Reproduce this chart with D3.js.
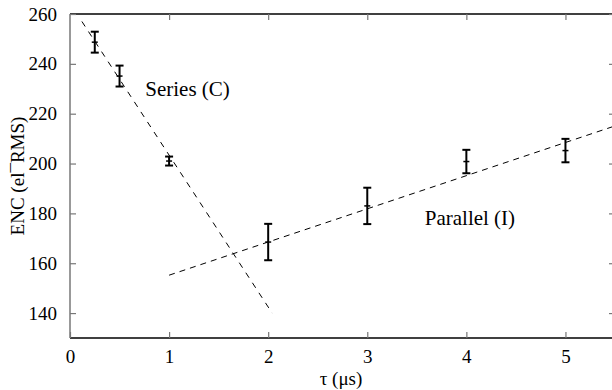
<!DOCTYPE html>
<html><head><meta charset="utf-8">
<script src="https://cdn.jsdelivr.net/npm/d3@7"></script>
<style>body{margin:0;background:#fff}svg{display:block}</style>
</head><body>
<svg id="c" width="612" height="390"></svg>
<script>
const seriesTau = [0.25, 0.5, 1.0];
const seriesENC = [248.7, 235.1, 201.0];
const seriesErr = [4.2, 4.2, 1.8];
const parallelTau = [2, 3, 4, 5];
const parallelENC = [168.5, 183.0, 200.8, 205.2];
const parallelErr = [7.3, 7.3, 4.7, 4.7];
const seriesFitX = [0.12, 2.04];
const seriesFitY = [257.0, 140.0];
const parallelFitX = [1.0, 5.5];
const parallelFitY = [155.2, 215.1];
const xTicks = [0, 1, 2, 3, 4, 5];
const yTicks = [140, 160, 180, 200, 220, 240, 260];
const labels = [{t: "Series (C)", x: 0.76, y: 227.1}, {t: "Parallel (I)", x: 3.58, y: 175.4}];

const FONT = "'Liberation Serif', 'Times New Roman', 'DejaVu Serif', serif";
const svg = d3.select("#c");
const L = 70, R = 615, T = 14, B = 338;
const x = d3.scaleLinear().domain([0, 5.5]).range([L, R]);
const y = d3.scaleLinear().domain([130, 260]).range([B, T]);

const g = svg.append("g");
svg.append("defs").append("clipPath").attr("id","clip").append("rect").attr("x",L).attr("y",T).attr("width",R-L).attr("height",B-T);

const line = d3.line().x(d=>x(d[0])).y(d=>y(d[1]));
g.append("path").attr("clip-path","url(#clip)").datum(seriesFitX.map((v,i)=>[v,seriesFitY[i]]))
 .attr("d",line).attr("fill","none").attr("stroke","#000").attr("stroke-width",1).attr("stroke-dasharray","6,6");
g.append("path").attr("clip-path","url(#clip)").datum(parallelFitX.map((v,i)=>[v,parallelFitY[i]]))
 .attr("d",line).attr("fill","none").attr("stroke","#000").attr("stroke-width",1).attr("stroke-dasharray","6,5");

function errBars(xs, ys, es){
  const eg = g.append("g").attr("stroke","#000").attr("stroke-width",2);
  xs.forEach((xv,i)=>{
    const cx = x(xv), y0 = y(ys[i]-es[i]), y1 = y(ys[i]+es[i]), yc = y(ys[i]);
    eg.append("line").attr("x1",cx).attr("x2",cx).attr("y1",y0).attr("y2",y1);
    eg.append("line").attr("x1",cx-4).attr("x2",cx+4).attr("y1",y0).attr("y2",y0);
    eg.append("line").attr("x1",cx-4).attr("x2",cx+4).attr("y1",y1).attr("y2",y1);
    eg.append("line").attr("x1",cx-3).attr("x2",cx+3).attr("y1",yc).attr("y2",yc).attr("stroke-width",1.5);
  });
}
errBars(seriesTau, seriesENC, seriesErr);
errBars(parallelTau, parallelENC, parallelErr);

g.append("line").attr("x1",L).attr("x2",R).attr("y1",B).attr("y2",B).attr("stroke","#000").attr("stroke-width",1.5);
g.append("line").attr("x1",L).attr("x2",R).attr("y1",T).attr("y2",T).attr("stroke","#000").attr("stroke-width",1.5);
g.append("line").attr("x1",L).attr("x2",L).attr("y1",T).attr("y2",B).attr("stroke","#777").attr("stroke-width",1.5);
g.append("line").attr("x1",R).attr("x2",R).attr("y1",T).attr("y2",B).attr("stroke","#777").attr("stroke-width",1.5);

const ax = svg.append("g").attr("transform",`translate(0,${B})`)
  .call(d3.axisBottom(x).tickValues(xTicks).tickSizeInner(-6).tickSizeOuter(0).tickPadding(12).tickFormat(d3.format("d")));
ax.select(".domain").remove();
ax.attr("font-family", FONT).attr("font-size", 19);
ax.selectAll(".tick line").attr("stroke","#777").attr("stroke-width",1.2);
ax.selectAll("text").attr("fill","#000");
const axT = svg.append("g").attr("transform",`translate(0,${T})`)
  .call(d3.axisTop(x).tickValues(xTicks.filter(d=>d>0)).tickSizeInner(-6).tickSizeOuter(0).tickFormat(""));
axT.select(".domain").remove();
axT.selectAll(".tick line").attr("stroke","#777").attr("stroke-width",1.2);

const ay = svg.append("g").attr("transform",`translate(${L},0)`)
  .call(d3.axisLeft(y).tickValues(yTicks).tickSizeInner(-6).tickSizeOuter(0).tickPadding(13));
ay.select(".domain").remove();
ay.attr("font-family", FONT).attr("font-size", 19);
ay.selectAll(".tick line").attr("stroke","#777").attr("stroke-width",1.2);
ay.selectAll("text").attr("fill","#000");
const ayR = svg.append("g").attr("transform",`translate(${R},0)`)
  .call(d3.axisRight(y).tickValues(yTicks).tickSizeInner(-6).tickSizeOuter(0).tickFormat(""));
ayR.select(".domain").remove();
ayR.selectAll(".tick line").attr("stroke","#777").attr("stroke-width",1.2);

labels.forEach(l=>{
  svg.append("text").attr("x",x(l.x)).attr("y",y(l.y)).attr("font-family",FONT).attr("font-size",21).text(l.t);
});

svg.append("text").attr("x",341).attr("y",385).attr("text-anchor","middle").attr("font-family",FONT).attr("font-size",19).text("τ (μs)");
svg.append("text").attr("transform","translate(24,176) rotate(-90)").attr("text-anchor","middle").attr("font-family",FONT).attr("font-size",19).text("ENC (el¯RMS)");
</script>
</body></html>
